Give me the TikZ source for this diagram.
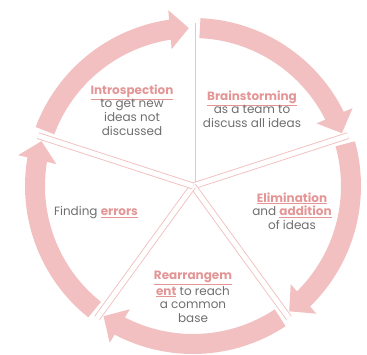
\documentclass[tikz,border=0pt]{standalone}
\usepackage{fontspec}
\setmainfont{Poppins}
\usetikzlibrary{arrows.meta,bending}

\definecolor{ringpink}{RGB}{242,192,192}
\definecolor{keypink}{RGB}{228,150,150}
\definecolor{textgray}{RGB}{110,110,110}
\newcommand{\keyword}[1]{\textcolor{keypink}{\underline{\textbf{#1}}}}

\begin{document}
\begin{tikzpicture}[x=1pt,y=1pt,
  every node/.style={align=center,text=textgray,font=\fontsize{12}{13.6}\selectfont},
  ring/.style={draw=ringpink,line width=20pt,-{Triangle[width=38pt,length=19pt,flex]}},
  spoke/.style={draw=ringpink,line width=0.9pt,double=white,double distance=5pt}]
\useasboundingbox (-193,-169) rectangle (174,186);
\coordinate (c) at (0,0);
% five arc arrows running clockwise between the spokes
\foreach \a in {90,18,-54,-126,-198}
  \draw[ring] (\a-2.5:158) arc[start angle=\a-2.5,end angle=\a-72+1.5,radius=158];
% spokes from the middle out to the ring
\foreach \a [count=\i] in {90,18,-54,-126,162} {
  \coordinate (s\i) at (\a:163);
  \draw[spoke] (c) -- (s\i);
}
\node (intro) at (-61,76) {\keyword{Introspection}\\to get new\\ideas not\\discussed};
\node (brain) at (59,77) {\keyword{Brainstorming}\\as a team to\\discuss all ideas};
\node (elim) at (99,-25) {\keyword{Elimination}\\and \keyword{addition}\\of ideas};
\node (rearr) at (0,-111) {\keyword{Rearrangem}\\\keyword{ent} to reach\\a common\\base};
\node (find) at (-97,-27) {Finding \keyword{errors}};
\end{tikzpicture}
\end{document}
